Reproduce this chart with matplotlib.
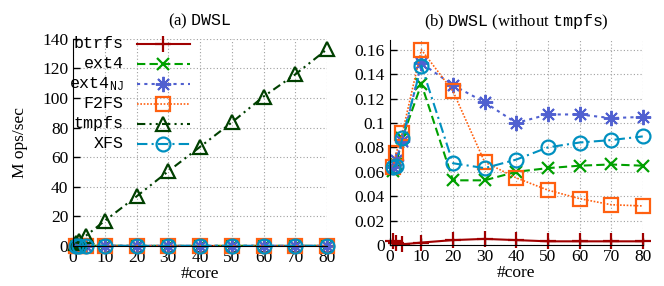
import matplotlib
matplotlib.use("Agg")
import matplotlib.pyplot as plt
from matplotlib.lines import Line2D
from matplotlib.ticker import FuncFormatter

plt.rcParams['font.family'] = 'Liberation Serif'
plt.rcParams['mathtext.fontset'] = 'custom'
plt.rcParams['mathtext.rm'] = 'Liberation Serif'
plt.rcParams['mathtext.tt'] = 'Liberation Mono'

cores = [1, 2, 4, 10, 20, 30, 40, 50, 60, 70, 80]

btrfs = [0.003, 0.002, 0.0005, 0.002, 0.004, 0.005, 0.004, 0.003, 0.003, 0.003, 0.003]
ext4 = [0.061, 0.066, 0.088, 0.132, 0.053, 0.053, 0.060, 0.063, 0.065, 0.066, 0.065]
ext4nj = [0.064, 0.070, 0.085, 0.149, 0.131, 0.117, 0.100, 0.107, 0.107, 0.104, 0.105]
f2fs = [0.064, 0.075, 0.092, 0.160, 0.126, 0.068, 0.055, 0.045, 0.038, 0.033, 0.032]
tmpfs = [1.7, 3.4, 6.8, 17.0, 33.5, 50.5, 67.0, 83.5, 101.0, 116.0, 133.0]
xfs = [0.064, 0.065, 0.088, 0.147, 0.067, 0.063, 0.070, 0.080, 0.084, 0.086, 0.089]

labels = [r'$\mathtt{btrfs}$', r'$\mathtt{ext4}$', r'$\mathtt{ext4_{NJ}}$',
          r'$\mathtt{F2FS}$', r'$\mathtt{tmpfs}$', r'$\mathtt{XFS}$']

styles = [
    dict(color='#a00000', marker='+', linestyle='-', ms=11, mew=1.6, lw=1.5),
    dict(color='#00a000', marker='x', linestyle=(0, (4, 2)), ms=9, mew=1.6, lw=1.5),
    dict(color='#5060d0', marker=(8, 2, 0), linestyle=(0, (1.5, 2)), ms=11, mew=1.4,
         lw=1.5),
    dict(color='#ff6010', marker='s', linestyle=(0, (1, 1)), ms=10, mew=1.6, lw=1.2,
         mfc='none'),
    dict(color='#004000', marker='^', linestyle=(0, (4, 2, 1, 2, 1, 2)), ms=10, mew=1.6,
         lw=1.5, mfc='none'),
    dict(color='#0090c0', marker='o', linestyle=(0, (5, 2, 1, 2)), ms=10, mew=1.6, lw=1.5,
         mfc='none'),
]


def style_axes(ax):
    ax.spines['top'].set_visible(False)
    ax.spines['right'].set_visible(False)
    ax.grid(True, linestyle=(0, (1, 2)), color='#a0a0a0', lw=0.8)
    ax.set_axisbelow(True)
    ax.tick_params(direction='in', length=5, labelsize=12.5, width=1)
    ax.tick_params(axis='x', pad=3)
    ax.set_xlim(0, 80)
    ax.set_xticks(range(0, 81, 10))
    ax.set_xlabel('#core', fontsize=12.5, labelpad=0)


fig = plt.figure(figsize=(6.64, 2.86), dpi=100)
ax1 = fig.add_axes([0.110, 0.140, 0.3825, 0.724])
ax2 = fig.add_axes([0.587, 0.1434, 0.381, 0.7166])

series = [btrfs, ext4, ext4nj, f2fs, tmpfs, xfs]
for data, lab, st in zip(series, labels, styles):
    ax1.plot(cores, data, clip_on=False, **st)
for data, lab, st in zip(series, labels, styles):
    if lab == r'$\mathtt{tmpfs}$':
        continue
    ax2.plot(cores, data, clip_on=False, **st)

style_axes(ax1)
ax1.set_ylim(0, 140)
ax1.set_yticks(range(0, 141, 20))
ax1.set_ylabel('M ops/sec', fontsize=12.5, labelpad=10)
ax1.set_title(r'(a) $\mathtt{DWSL}$', fontsize=12, pad=10)

# gnuplot-style key: label right-aligned, sample to its right
for i, (lab, st) in enumerate(zip(labels, styles)):
    y = 0.976 - i * 0.0966
    ax1.text(0.20, y, lab, transform=ax1.transAxes, ha='right', va='center',
             fontsize=12)
    ax1.add_line(Line2D([0.25, 0.46], [y, y], transform=ax1.transAxes,
                        color=st['color'], linestyle=st['linestyle'], lw=st['lw'],
                        clip_on=False))
    ax1.add_line(Line2D([0.355], [y], transform=ax1.transAxes, color=st['color'],
                        marker=st['marker'], ms=st['ms'], mew=st['mew'],
                        mfc=st.get('mfc', st['color']), linestyle='none',
                        clip_on=False))

style_axes(ax2)
ax2.set_ylim(0, 0.168)
ax2.set_yticks([0, 0.02, 0.04, 0.06, 0.08, 0.1, 0.12, 0.14, 0.16])
ax2.yaxis.set_major_formatter(FuncFormatter(lambda v, p: '%g' % round(v, 3)))
ax2.set_title(r'(b) $\mathtt{DWSL}$ (without $\mathtt{tmpfs}$)', fontsize=12, pad=10)

fig.savefig('out.png', dpi=100)
